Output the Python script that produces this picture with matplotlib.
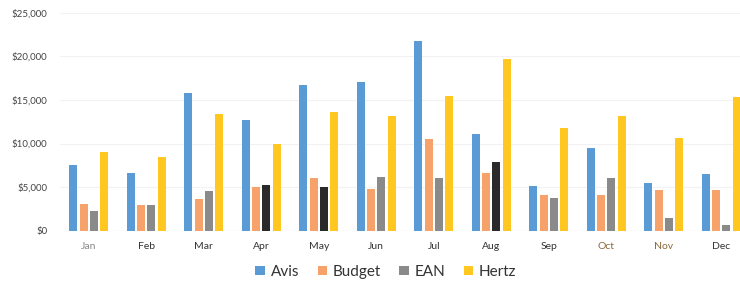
import matplotlib
matplotlib.use("Agg")
import matplotlib.pyplot as plt
import numpy as np

plt.rcParams['font.family'] = ['Lato', 'DejaVu Sans']

months = ["Jan", "Feb", "Mar", "Apr", "May", "Jun", "Jul", "Aug", "Sep", "Oct", "Nov", "Dec"]
avis = [7500, 6600, 15800, 12700, 16700, 17100, 21800, 11100, 5100, 9500, 5500, 6500]
budget = [3100, 3000, 3600, 5000, 6100, 4800, 10500, 6600, 4100, 4100, 4700, 4700]
ean = [2300, 3000, 4500, 5200, 5000, 6200, 6000, 7900, 3800, 6000, 1500, 600]
hertz = [9000, 8500, 13400, 9900, 13600, 13200, 15400, 19700, 11800, 13200, 10600, 15300]
yticks = [0, 5000, 10000, 15000, 20000, 25000]
ytick_labels = ["$0", "$5,000", "$10,000", "$15,000", "$20,000", "$25,000"]

fig = plt.figure(figsize=(7.4, 2.86), dpi=100)
W, H = 740, 286
ax = fig.add_axes([60 / W, 1 - 230.7 / H, 690 / W, (230.7 - 12.7) / H])

x = np.arange(len(months))
bw = 0.14
pitch = 0.18
ean_colors = ["#8a8a8a"] * len(months)
for i in (3, 4, 7):
    ean_colors[i] = "#2a2a2a"

ax.bar(x - 1.5 * pitch, avis, bw, color="#5B9BD5", label="Avis")
ax.bar(x - 0.5 * pitch, budget, bw, color="#F7A26A", label="Budget")
ax.bar(x + 0.5 * pitch, ean, bw, color=ean_colors, label="EAN")
ax.bar(x + 1.5 * pitch, hertz, bw, color="#FFC720", label="Hertz")

ax.set_xlim(-0.5, len(months) - 0.5)
ax.set_ylim(0, 25000)
ax.set_yticks(yticks)
ax.set_yticklabels(ytick_labels, fontsize=7, color="#444444")
ax.set_xticks(x)
ax.set_xticklabels(months, fontsize=7.5, color="#333333")
for lbl in ax.get_xticklabels():
    if lbl.get_text() in ("Oct", "Nov"):
        lbl.set_color("#8a6a3a")
    if lbl.get_text() == "Jan":
        lbl.set_color("#888888")
ax.tick_params(length=0, pad=8)
ax.tick_params(axis="y", pad=9)
ax.grid(axis="y", color="#f2f2f2", linewidth=0.8)
ax.set_axisbelow(True)
for s in ax.spines.values():
    s.set_visible(False)
ax.axhline(0, color="#e6e6e6", linewidth=0.8, zorder=0)

fig.legend(loc="center", bbox_to_anchor=(386 / W, 1 - 272 / H), ncol=4, frameon=False,
           fontsize=11, handlelength=0.6, handleheight=0.6, handletextpad=0.4,
           columnspacing=1.2, labelcolor="#333333")

fig.savefig("out.png", dpi=100)
